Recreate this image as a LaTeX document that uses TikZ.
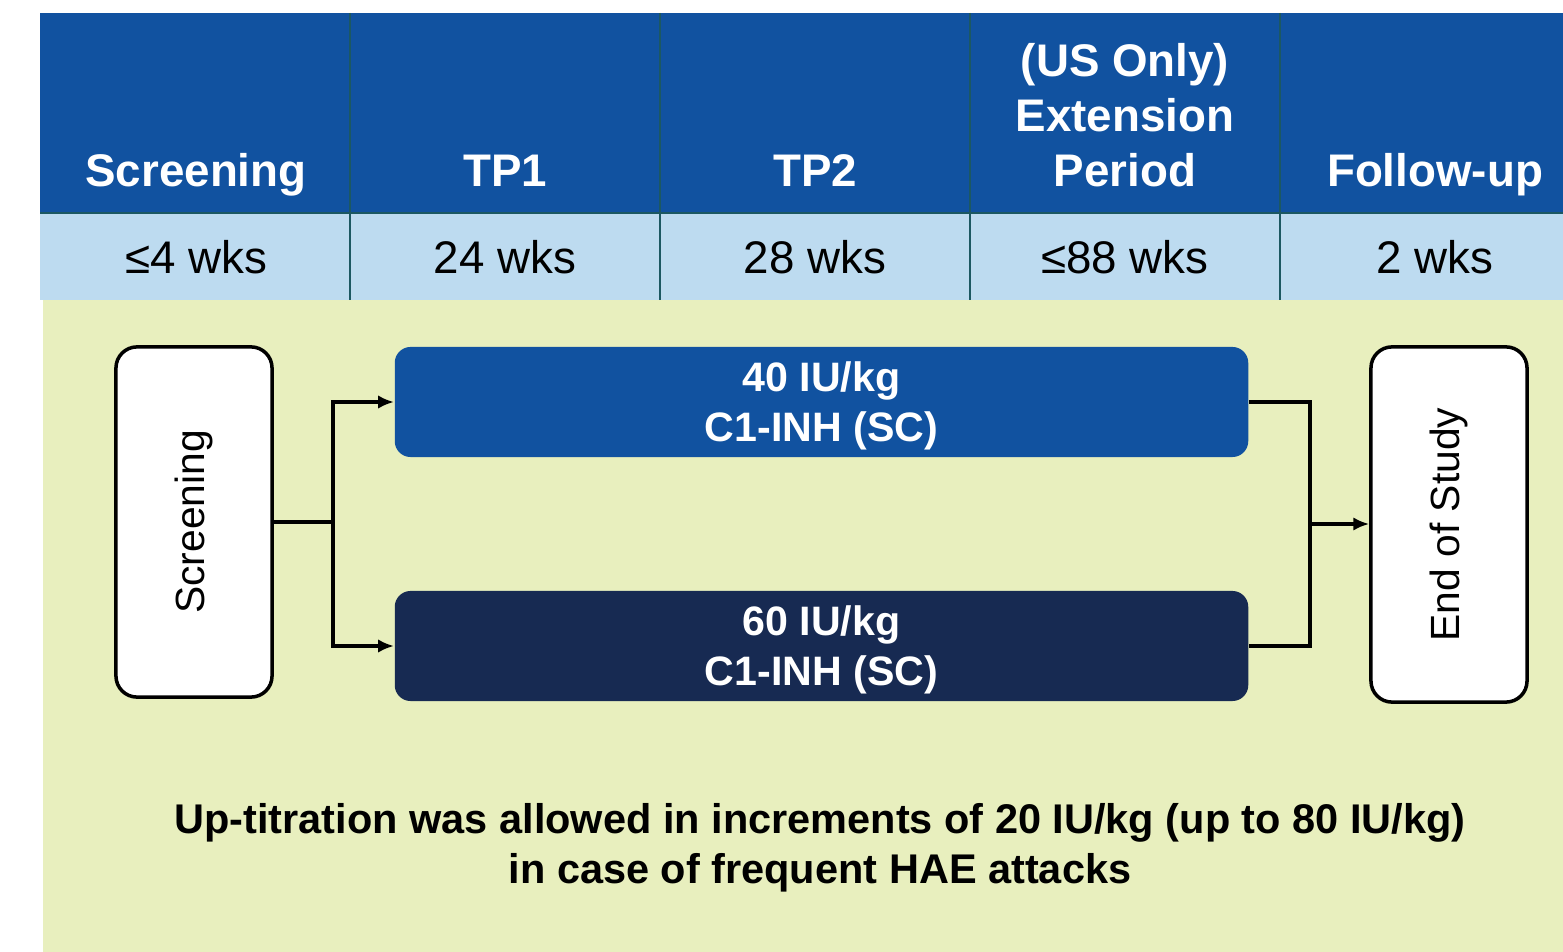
\documentclass[tikz,border=0pt]{standalone}
\usepackage{fontspec}
\setmainfont{Liberation Sans}
\usetikzlibrary{arrows.meta}
\definecolor{hdrblue}{RGB}{17, 82, 160}
\definecolor{rowblue}{RGB}{189, 219, 240}
\definecolor{gridteal}{RGB}{28, 88, 98}
\definecolor{bggreen}{RGB}{232, 239, 190}
\definecolor{armnavy}{RGB}{23, 42, 82}
\tikzset{>={Latex[length=4.5pt, width=3.8pt]}}

\begin{document}
\begin{tikzpicture}[x = 0.01cm, y = -0.01cm,
  hdr/.style = {anchor = south, text depth = 0.25em, inner sep = 0pt, white, align = center,
    font = \fontsize{13}{15.6}\selectfont\bfseries},
  wks/.style = {anchor = base, inner sep = 0pt, font = \fontsize{13}{15}\selectfont},
  stagebox/.style = {draw, line width = 1pt, fill = white, rounded corners = 6pt, rotate = 90,
    minimum height = 1.56cm, font = \fontsize{11.6}{14}\selectfont},
  armbox/.style = {rounded corners = 4.5pt, minimum width = 8.53cm, minimum height = 1.1cm,
    text depth = 0pt, text = white, align = center, font = \fontsize{11.7}{14.2}\selectfont\bfseries},
  link/.style = {line width = 1pt}]
\useasboundingbox (0,0) rectangle (1563,952);
\fill[white] (0,0) rectangle (1563,952);
\fill[hdrblue] (40,13) rectangle (1563,213);
\fill[rowblue] (40,213) rectangle (1563,300);
\fill[bggreen] (43,300) rectangle (1563,952);
\draw[gridteal, line width = 0.6pt] (40,213) -- (1563,213);
\foreach \x in {350, 660, 970, 1280}
  \draw[gridteal, line width = 0.6pt] (\x,13) -- (\x,300);

% periods and their lengths
\foreach \nm/\x/\hd/\du in {scr/196/Screening/≤4 wks, tpa/505/TP1/24 wks, tpb/815/TP2/28 wks,
    ext/1125/{(US Only)\\Extension\\Period}/≤88 wks, fup/1435/Follow-up/2 wks}{
  \node[hdr] (h-\nm) at (\x, 196) {\hd};
  \node[wks] (w-\nm) at (\x, 274) {\du};
}

% study flow
\node[stagebox, minimum width = 3.5cm] (scr) at (194, 522) {Screening};
\node[stagebox, minimum width = 3.55cm] (eos) at (1449, 524.5) {End of Study};
\node[armbox, fill = hdrblue] (hi) at (821.5, 402) {40 IU/kg\\C1-INH (SC)};
\node[armbox, fill = armnavy] (lo) at (821.5, 646) {60 IU/kg\\C1-INH (SC)};

\coordinate (split) at (333, 522);
\coordinate (join) at (1310, 524);
\draw[link] (scr.south) -- (split);
\draw[link, ->] (split) |- (hi.west);
\draw[link, ->] (split) |- (lo.west);
\draw[link] (hi.east) -| (join) |- (lo.east);
\draw[link, ->] (join) -- (join -| eos.north);

\node[align = center, font = \fontsize{11.8}{14.2}\selectfont\bfseries] (note) at (820, 848)
  {Up-titration was allowed in increments of 20 IU/kg (up to 80 IU/kg)\\in case of frequent HAE attacks};
\end{tikzpicture}
\end{document}
